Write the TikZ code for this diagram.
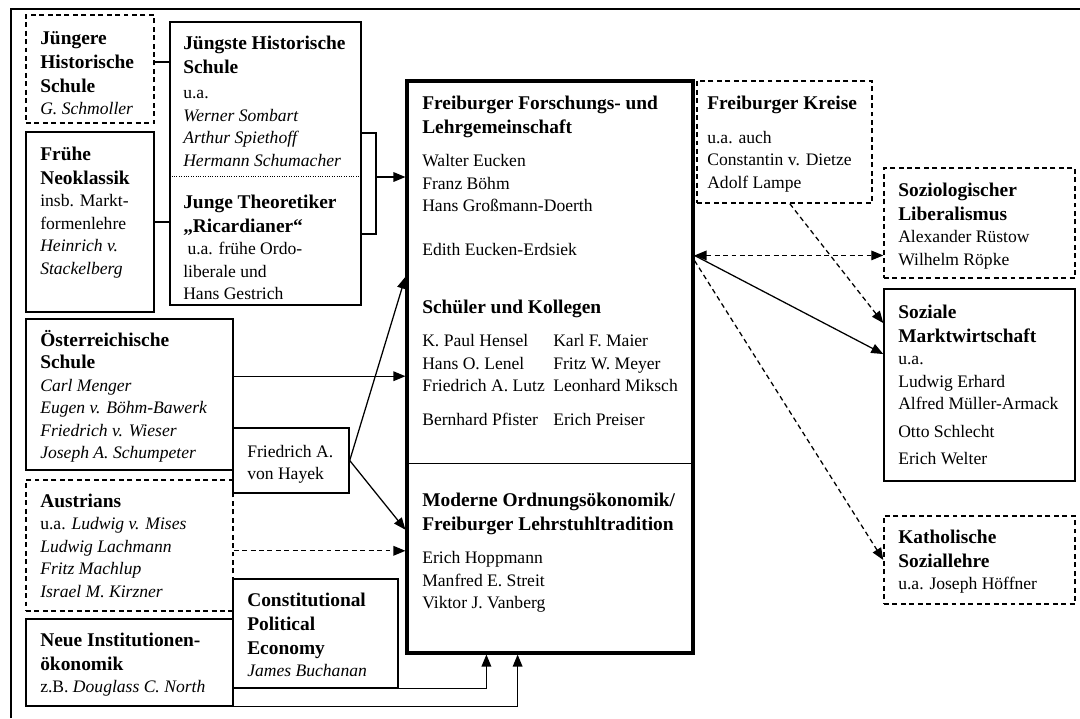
\documentclass[tikz,border=0pt]{standalone}
\usepackage{fontspec}
\setmainfont{Liberation Serif}
\usetikzlibrary{arrows.meta,calc,fit}
\newcommand{\bodyfont}{\fontsize{12.5}{16}\selectfont}
\newcommand{\boxhead}[1]{{\fontsize{13.8}{17}\selectfont\bfseries #1}}

\begin{document}
\begin{tikzpicture}[x=0.025cm,y=-0.025cm,
 >={Triangle[length=3mm,width=2.4mm]},
 box/.style={draw,line width=1pt,inner sep=0pt},
 dbox/.style={box,dash pattern=on 3.5pt off 2.5pt},
 txt/.style={anchor=north west,inner sep=0pt,align=left,font=\bodyfont},
 link/.style={line width=0.9pt},
 arr/.style={->,line width=0.9pt},
 darr/.style={arr,dash pattern=on 3.5pt off 2.5pt}]
\useasboundingbox (0,0) rectangle (1080,718);
\draw[line width=1pt] (11,718) -- (11,9) -- (1080,9);

% left column
\node[dbox,fit={(26,15)(154,123)}] (jhs) {};
\node[box,fit={(26,132)(154,312)}] (fnk) {};
\node[box,fit={(170,22)(361,305)}] (jst) {};
\node[box,fit={(26,319)(233,470)}] (oes) {};
\node[dbox,fit={(26,480)(233,611)}] (aus) {};
\node[box,fit={(233,428)(349,493)}] (hay) {};
\node[box,fit={(233,579)(398,688)}] (cpe) {};
\node[box,fit={(26,619)(233,706)}] (nie) {};

% centre and right
\node[box,line width=2.2pt,fit={(407,81)(693,653)}] (fr) {};
\node[dbox,fit={(697,81)(872,203)}] (fk) {};
\node[dbox,fit={(884,168)(1075,278)}] (sl) {};
\node[box,fit={(884,289)(1075,481)}] (sm) {};
\node[dbox,fit={(884,516)(1075,604)}] (kath) {};

\draw[densely dotted,line width=0.7pt] ($(jst.north west)!0.544!(jst.south west)$) -- ($(jst.north east)!0.544!(jst.south east)$);
\draw[line width=1pt] ($(fr.north west)!0.668!(fr.south west)$) -- ($(fr.north east)!0.668!(fr.south east)$);

% texts
\node[txt] (jhs-t) at (40,27.3) {\boxhead{\strut Jüngere}\\[1pt]\boxhead{Historische}\\[1pt]\boxhead{Schule}\\\textit{G. Schmoller}};
\node[txt] (fnk-t) at (40,143.3) {\boxhead{\strut Frühe}\\[1pt]\boxhead{Neoklassik}\\insb. Markt-\\formenlehre\\\textit{Heinrich v.}\\\textit{Stackelberg}};
\node[txt] (jst-t) at (183,32.3) {\boxhead{\strut Jüngste Historische}\\[1pt]\boxhead{Schule}\\[2pt]u.a.\\\textit{Werner Sombart}\\\textit{Arthur Spiethoff}\\\textit{Hermann Schumacher}\\[14pt]
 \boxhead{Junge Theoretiker}\\[1pt]\boxhead{„Ricardianer“}\\\hspace*{3pt}u.a. frühe Ordo-\\liberale und\\Hans Gestrich};
\node[txt] (oes-t) at (40,329.3) {\boxhead{\strut Österreichische}\\\boxhead{Schule}\\\textit{Carl Menger}\\\textit{Eugen v. Böhm-Bawerk}\\\textit{Friedrich v. Wieser}\\\textit{Joseph A. Schumpeter}};
\node[txt] (hay-t) at (247,441.3) {\strut Friedrich A.\\von Hayek};
\node[txt] (aus-t) at (40,490.3) {\boxhead{\strut Austrians}\\u.a. \textit{Ludwig v. Mises}\\\textit{Ludwig Lachmann}\\\textit{Fritz Machlup}\\\textit{Israel M. Kirzner}};
\node[txt] (cpe-t) at (247,589.3) {\boxhead{\strut Constitutional}\\[1pt]\boxhead{Political}\\[1pt]\boxhead{Economy}\\\textit{James Buchanan}};
\node[txt] (nie-t) at (40,629.3) {\boxhead{\strut Neue Institutionen-}\\[1pt]\boxhead{ökonomik}\\z.B. \textit{Douglass C. North}};
\node[txt] (fr-t) at (422,92.3) {\boxhead{\strut Freiburger Forschungs- und}\\[1pt]\boxhead{Lehrgemeinschaft}\\[8pt]Walter Eucken\\Franz Böhm\\Hans Großmann-Doerth\\[15pt]Edith Eucken-Erdsiek\\[25pt]
 \boxhead{Schüler und Kollegen}\\[8pt]\makebox[3.275cm][l]{K. Paul Hensel}Karl F. Maier\\\makebox[3.275cm][l]{Hans O. Lenel}Fritz W. Meyer\\\makebox[3.275cm][l]{Friedrich A. Lutz}Leonhard Miksch\\[8pt]\makebox[3.275cm][l]{Bernhard Pfister}Erich Preiser};
\node[txt] (mo-t) at (422,489.3) {\boxhead{\strut Moderne Ordnungsökonomik/}\\[1pt]\boxhead{Freiburger Lehrstuhltradition}\\[8pt]Erich Hoppmann\\Manfred E. Streit\\Viktor J. Vanberg};
\node[txt] (fk-t) at (707,92.3) {\boxhead{\strut Freiburger Kreise}\\[8pt]u.a. auch\\Constantin v. Dietze\\Adolf Lampe};
\node[txt] (sl-t) at (898,179.3) {\boxhead{\strut Soziologischer}\\[1pt]\boxhead{Liberalismus}\\Alexander Rüstow\\Wilhelm Röpke};
\node[txt] (sm-t) at (898,301.3) {\boxhead{\strut Soziale}\\[1pt]\boxhead{Marktwirtschaft}\\u.a.\\Ludwig Erhard\\Alfred Müller-Armack\\[4pt]Otto Schlecht\\[3pt]Erich Welter};
\node[txt] (kath-t) at (898,526.3) {\boxhead{\strut Katholische}\\[1pt]\boxhead{Soziallehre}\\u.a. Joseph Höffner};

% connectors
\coordinate (jhs-o) at ($(jhs.north east)!0.435!(jhs.south east)$);
\coordinate (brk-t) at (376,133);
\coordinate (brk-b) at (376,234);
\coordinate (brk) at (376,177);
\coordinate (oes-o) at ($(oes.north east)!0.38!(oes.south east)$);
\coordinate (aus-o) at ($(aus.north east)!0.54!(aus.south east)$);
\coordinate (fr-r) at ($(fr.north east)!0.306!(fr.south east)$);
\draw[link] (jhs-o) -- (jhs-o -| jst.west);
\draw[link] (fnk.east) -- (fnk.east -| jst.west);
\draw[link] (brk-t -| jst.east) -- (brk-t) -- (brk-b) -- (brk-b -| jst.east);
\draw[arr] (brk) -- (brk -| fr.west);
\draw[arr] (oes-o) -- (oes-o -| fr.west);
\draw[arr] (hay.east) -- ($(fr.north west)!0.343!(fr.south west)$);
\draw[arr] (hay.east) -- ($(fr.north west)!0.783!(fr.south west)$);
\draw[darr] (aus-o) -- (aus-o -| fr.west);
\draw[arr] (cpe.south east) -| ($(fr.south west)!0.28!(fr.south east)$);
\draw[arr] (nie.south east) -| ($(fr.south west)!0.388!(fr.south east)$);
\draw[darr,<->] (fr-r) -- (fr-r -| sl.west);
\draw[arr] (fr-r) -- ($(sm.north west)!0.34!(sm.south west)$);
\draw[darr] ($(fk.south west)!0.53!(fk.south east)$) -- ($(sm.north west)!0.18!(sm.south west)$);
\draw[darr] ($(fr.north east)!0.315!(fr.south east)$) -- (kath.west);
\end{tikzpicture}
\end{document}
